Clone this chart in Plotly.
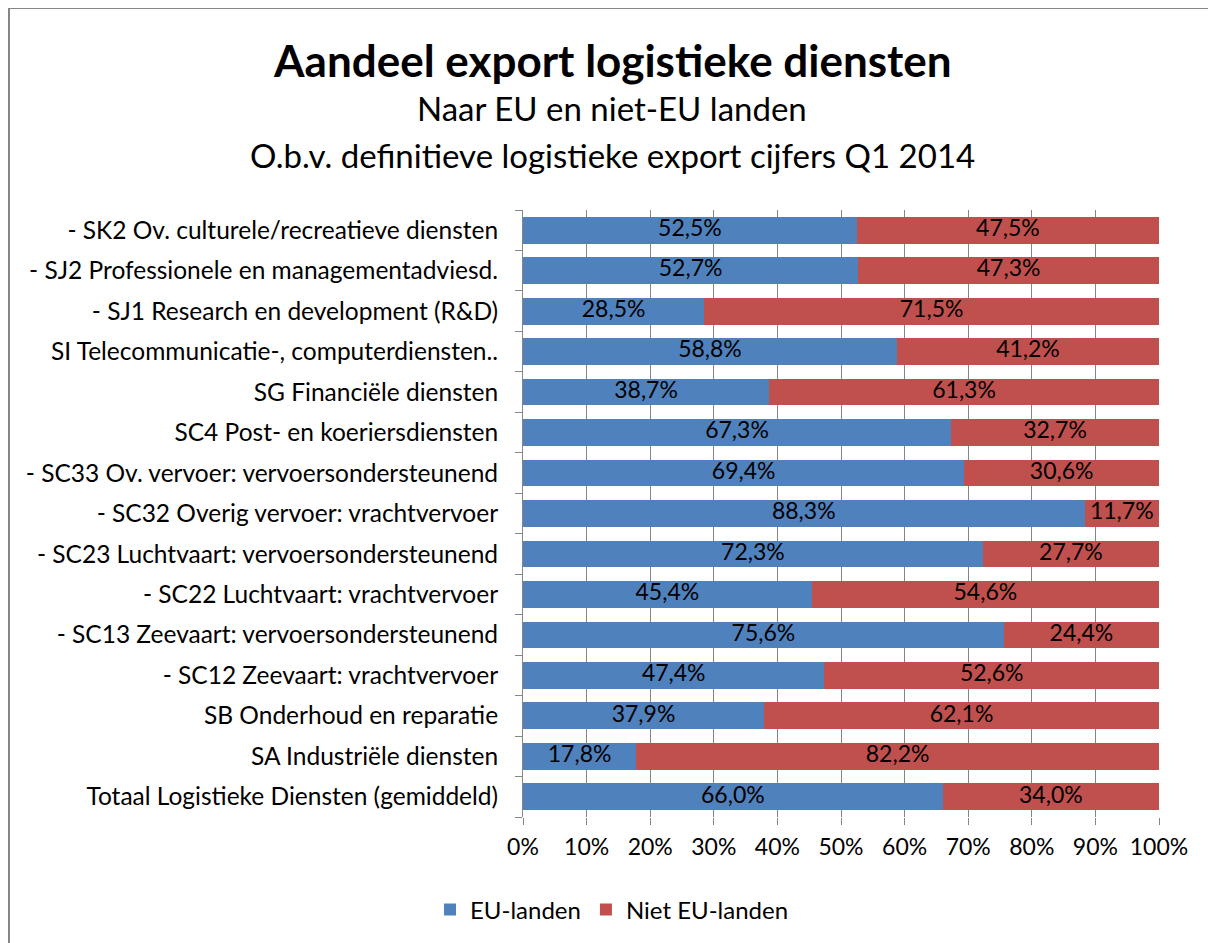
import plotly.graph_objects as go

categories = [
    "- SK2 Ov. culturele/recreatieve diensten",
    "- SJ2 Professionele en managementadviesd.",
    "- SJ1 Research en development (R&D)",
    "SI Telecommunicatie-, computerdiensten..",
    "SG Financiële diensten",
    "SC4 Post- en koeriersdiensten",
    "- SC33 Ov. vervoer: vervoersondersteunend",
    "- SC32 Overig vervoer: vrachtvervoer",
    "- SC23 Luchtvaart: vervoersondersteunend",
    "- SC22 Luchtvaart: vrachtvervoer",
    "- SC13 Zeevaart: vervoersondersteunend",
    "- SC12 Zeevaart: vrachtvervoer",
    "SB Onderhoud en reparatie",
    "SA Industriële diensten",
    "Totaal Logistieke Diensten (gemiddeld)",
]
eu_landen = [52.5, 52.7, 28.5, 58.8, 38.7, 67.3, 69.4, 88.3, 72.3, 45.4, 75.6, 47.4, 37.9, 17.8, 66.0]
niet_eu_landen = [47.5, 47.3, 71.5, 41.2, 61.3, 32.7, 30.6, 11.7, 27.7, 54.6, 24.4, 52.6, 62.1, 82.2, 34.0]
x_ticks = [0, 10, 20, 30, 40, 50, 60, 70, 80, 90, 100]
x_tick_labels = [f"{t}%" for t in x_ticks]

FONT = "Lato, Carlito, Calibri, sans-serif"

# The page body adds an 8px offset; work in reference-pixel coordinates and shift.
OFF = 8
W, H = 1216 - OFF, 943 - OFF
PLOT_L, PLOT_R, PLOT_T, PLOT_B = 523, 1159, 210, 817  # reference pixels
L = PLOT_L - OFF
T = PLOT_T - OFF
R = W - (PLOT_R - OFF)
B = H - (PLOT_B - OFF)
PW = PLOT_R - PLOT_L
PH = PLOT_B - PLOT_T

def px(xp):
    return (xp - PLOT_L) / PW

def py(yp):
    return (PLOT_B - yp) / PH

fig = go.Figure()
for name, vals, color in [("EU-landen", eu_landen, "#4F81BD"),
                          ("Niet EU-landen", niet_eu_landen, "#C0504D")]:
    fig.add_trace(go.Bar(
        y=categories, x=vals, name=name, orientation="h",
        marker=dict(color=color, line=dict(width=0)),
        textposition="none", hoverinfo="x+name",
    ))

# Data labels, centred in each segment (as text traces so they are not shrunk)
eu_mid = [v / 2 for v in eu_landen]
niet_mid = [e + n / 2 for e, n in zip(eu_landen, niet_eu_landen)]
for mids, vals in [(eu_mid, eu_landen), (niet_mid, niet_eu_landen)]:
    fig.add_trace(go.Scatter(
        x=mids, y=categories, mode="text",
        text=[f"{v:.1f}%".replace(".", ",") for v in vals],
        textposition="middle center",
        textfont=dict(family=FONT, size=23, color="black"),
        showlegend=False, hoverinfo="skip", cliponaxis=False,
    ))

fig.update_layout(
    width=W, height=H,
    margin=dict(l=L, r=R, t=T, b=B, autoexpand=False),
    barmode="stack", bargap=0.34,
    separators=",.",
    paper_bgcolor="white", plot_bgcolor="white",
    font=dict(family=FONT, size=24, color="black"),
    showlegend=True,
    legend=dict(orientation="h", x=px(612), xanchor="center", y=py(910), yanchor="middle",
                font=dict(size=24), traceorder="normal", itemwidth=30),
)
fig.update_xaxes(
    range=[0, 100], tickvals=x_ticks, ticktext=x_tick_labels,
    showgrid=True, gridcolor="#868686", gridwidth=1,
    ticks="outside", ticklen=7, tickcolor="#868686", tickwidth=1,
    showline=False, zeroline=False, tickfont=dict(size=23),
    ticklabelstandoff=2,
)
fig.update_yaxes(
    categoryorder="array", categoryarray=categories[::-1],
    autorange=False, range=[-0.5, len(categories) - 0.5],
    showline=True, linecolor="#868686", linewidth=1,
    ticks="outside", ticklen=7, tickcolor="#868686", tickwidth=1,
    tickson="boundaries", showgrid=False, tickfont=dict(size=24.5),
    ticklabelstandoff=19,
)

# Title lines
fig.add_annotation(text="<b>Aandeel export logistieke diensten</b>", x=px(612), y=py(60),
                   xref="paper", yref="paper", showarrow=False, font=dict(size=44),
                   xanchor="center", yanchor="middle")
fig.add_annotation(text="Naar EU en niet-EU landen", x=px(612), y=py(108),
                   xref="paper", yref="paper", showarrow=False, font=dict(size=33),
                   xanchor="center", yanchor="middle")
fig.add_annotation(text="O.b.v. definitieve logistieke export cijfers Q1 2014", x=px(612), y=py(155),
                   xref="paper", yref="paper", showarrow=False, font=dict(size=33),
                   xanchor="center", yanchor="middle")

# Outer chart border (left and top visible)
fig.add_shape(type="rect", xref="paper", yref="paper",
              x0=px(9), x1=px(1260), y0=py(8), y1=py(990),
              line=dict(color="#868686", width=2), fillcolor="rgba(0,0,0,0)", layer="below")

fig.write_html("out.html")
